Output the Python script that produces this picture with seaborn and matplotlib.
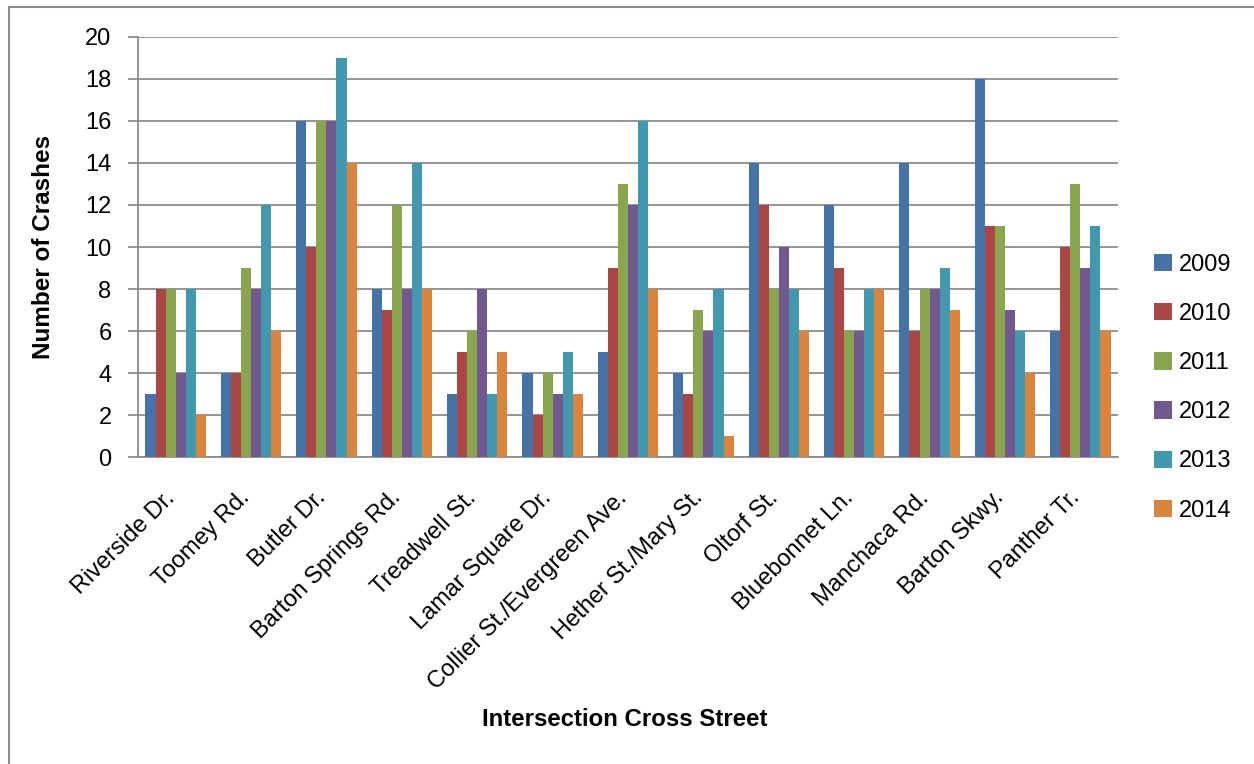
import numpy as np
import pandas as pd
import seaborn as sns
import matplotlib.pyplot as plt

streets = ['Riverside Dr.', 'Toomey Rd.', 'Butler Dr.', 'Barton Springs Rd.',
           'Treadwell St.', 'Lamar Square Dr.', 'Collier St./Evergreen Ave.',
           'Hether St./Mary St.', 'Oltorf St.', 'Bluebonnet Ln.', 'Manchaca Rd.',
           'Barton Skwy.', 'Panther Tr.']
years = ['2009', '2010', '2011', '2012', '2013', '2014']
crashes_2009 = [3, 4, 16, 8, 3, 4, 5, 4, 14, 12, 14, 18, 6]
crashes_2010 = [8, 4, 10, 7, 5, 2, 9, 3, 12, 9, 6, 11, 10]
crashes_2011 = [8, 9, 16, 12, 6, 4, 13, 7, 8, 6, 8, 11, 13]
crashes_2012 = [4, 8, 16, 8, 8, 3, 12, 6, 10, 6, 8, 7, 9]
crashes_2013 = [8, 12, 19, 14, 3, 5, 16, 8, 8, 8, 9, 6, 11]
crashes_2014 = [2, 6, 14, 8, 5, 3, 8, 1, 6, 8, 7, 4, 6]
colors = ['#4572A7', '#AA4643', '#89A54E', '#71588F', '#4198AF', '#DB843D']

series = [crashes_2009, crashes_2010, crashes_2011, crashes_2012, crashes_2013, crashes_2014]
rows = []
for yr, vals in zip(years, series):
    for st, v in zip(streets, vals):
        rows.append({'street': st, 'year': yr, 'crashes': v})
df = pd.DataFrame(rows)

sns.set_style('white')
plt.rcParams['font.family'] = ['Liberation Sans', 'DejaVu Sans']
plt.rcParams['text.color'] = 'black'
plt.rcParams['xtick.color'] = 'black'
plt.rcParams['ytick.color'] = 'black'
plt.rcParams['axes.labelcolor'] = 'black'

fig = plt.figure(figsize=(12.54, 7.64), dpi=100)
ax = fig.add_axes([0.110, 0.4018, 0.7816, 0.5498])
sns.barplot(data=df, x='street', y='crashes', hue='year', palette=colors,
            width=0.8, saturation=1, linewidth=0, ax=ax, zorder=3)
ax.set_ylim(0, 20)
ax.set_yticks(np.arange(0, 21, 2))
ax.yaxis.grid(True, color='#8c8c8c', linewidth=1.3, zorder=0)
ax.set_axisbelow(True)
for side in ['top', 'right']:
    ax.spines[side].set_visible(False)
for side in ['left', 'bottom']:
    ax.spines[side].set_color('#8c8c8c')
    ax.spines[side].set_linewidth(1.3)
ax.tick_params(axis='y', labelsize=17, length=7, width=1.3, color='#8c8c8c',
               direction='out', left=True, pad=12)
ax.tick_params(axis='x', labelsize=17, length=0, pad=30)
plt.setp(ax.get_xticklabels(), rotation=45, ha='right', va='baseline',
         rotation_mode='anchor')
ax.set_xlim(-0.5, len(streets) - 0.5)
ax.set_ylabel('Number of Crashes', fontsize=17.5, fontweight='bold')
ax.yaxis.set_label_coords(-0.085, 0.5)
ax.set_xlabel('')
fig.text(0.498, 0.058, 'Intersection Cross Street', fontsize=17.3, fontweight='bold',
         ha='center', va='center')

leg = ax.legend(loc='center left', bbox_to_anchor=(1.015, 0.165), frameon=False,
                fontsize=17, handlelength=0.75, handleheight=0.75,
                labelspacing=1.15, handletextpad=0.3)

# outer frame: only left and top edges show in the cropped original
fig.patches.append(plt.Rectangle((0.0072, -0.1), 1.2, 1.0908, transform=fig.transFigure,
                                 fill=False, edgecolor='#8c8c8c', linewidth=1.5))
fig.savefig('out.png', dpi=100)
